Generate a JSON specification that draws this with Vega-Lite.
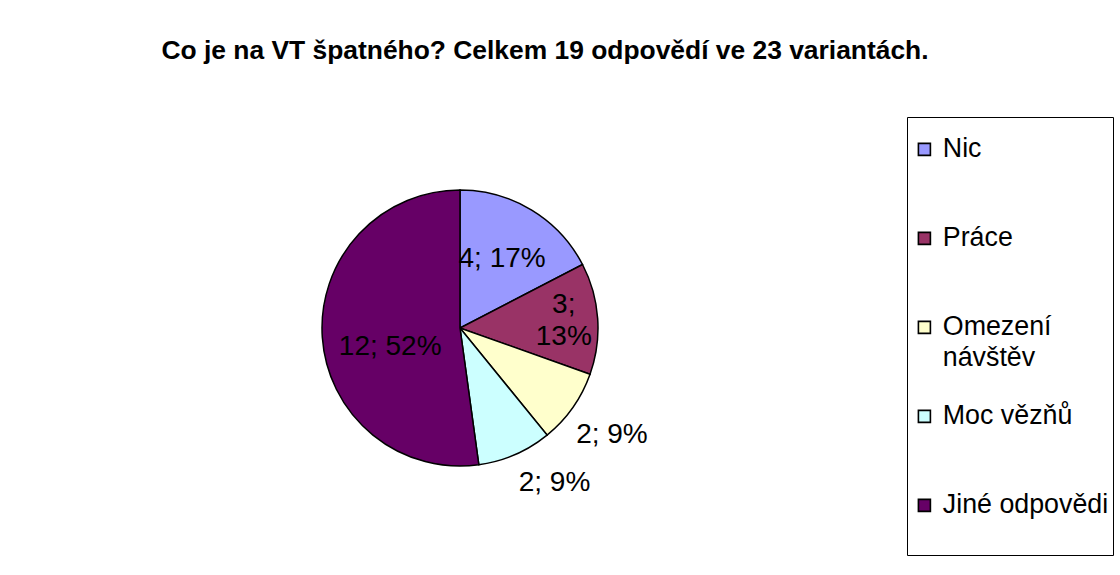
{
  "$schema": "https://vega.github.io/schema/vega-lite/v6.json",
  "autosize": {"type": "none"},
  "width": 276,
  "height": 276,
  "padding": {"left": 322, "top": 190, "right": 522, "bottom": 109},
  "background": "white",
  "config": {
    "view": {"stroke": null},
    "font": "Liberation Sans",
    "style": {"guide-label": {"lineHeight": 31}}
  },
  "title": {
    "text": "Co je na VT špatného? Celkem 19 odpovědí ve 23 variantách.",
    "font": "Liberation Sans",
    "fontSize": 26.4,
    "fontWeight": "bold",
    "color": "black",
    "anchor": "middle",
    "frame": "group",
    "dx": 85,
    "offset": 52
  },
  "data": {
    "values": [
      {"kategorie": "Nic", "pocet": 4, "poradi": 1, "label": "4; 17%"},
      {"kategorie": "Práce", "pocet": 3, "poradi": 2, "label": "3;\n13%"},
      {"kategorie": "Omezení návštěv", "pocet": 2, "poradi": 3, "label": "2; 9%"},
      {"kategorie": "Moc vězňů", "pocet": 2, "poradi": 4, "label": "2; 9%"},
      {"kategorie": "Jiné odpovědi", "pocet": 12, "poradi": 5, "label": "12; 52%"}
    ]
  },
  "encoding": {
    "theta": {"field": "pocet", "type": "quantitative", "stack": true},
    "order": {"field": "poradi", "type": "quantitative"}
  },
  "layer": [
    {
      "mark": {"type": "arc", "stroke": "black", "strokeWidth": 1.5},
      "encoding": {
        "color": {
          "field": "kategorie",
          "type": "nominal",
          "scale": {
            "domain": ["Nic", "Práce", "Omezení návštěv", "Moc vězňů", "Jiné odpovědi"],
            "range": ["#9999FF", "#993366", "#FFFFCC", "#CCFFFF", "#660066"]
          },
          "legend": {
            "orient": "none",
            "legendX": 585,
            "legendY": -73,
            "title": " ",
            "titleFontSize": 10,
            "titlePadding": 5,
            "symbolType": "square",
            "symbolSize": 144,
            "symbolStrokeColor": "black",
            "symbolStrokeWidth": 1.6,
            "symbolOpacity": 1,
            "labelFont": "Liberation Sans",
            "labelFontSize": 26.8,
            "labelColor": "black",
            "labelOffset": 5,
            "labelLimit": 300,
            "labelExpr": "datum.label == 'Omezení návštěv' ? ['Omezení', 'návštěv'] : [datum.label, ' ']",
            "rowPadding": 30,
            "padding": 4,
            "strokeColor": "black",
            "fillColor": "white"
          }
        }
      }
    },
    {
      "mark": {"type": "text", "radius": 81, "font": "Liberation Sans", "fontSize": 28, "color": "black"},
      "encoding": {"text": {"condition": {"test": "datum.poradi == 1", "field": "label"}, "value": ""}}
    },
    {
      "mark": {"type": "text", "radius": 104, "dy": -16, "font": "Liberation Sans", "fontSize": 28, "color": "black", "lineBreak": "\n", "lineHeight": 32},
      "encoding": {"text": {"condition": {"test": "datum.poradi == 2", "field": "label"}, "value": ""}}
    },
    {
      "mark": {"type": "text", "radius": 186, "font": "Liberation Sans", "fontSize": 28, "color": "black"},
      "encoding": {"text": {"condition": {"test": "datum.poradi == 3", "field": "label"}, "value": ""}}
    },
    {
      "mark": {"type": "text", "radius": 182, "dx": 22, "dy": -12, "font": "Liberation Sans", "fontSize": 28, "color": "black"},
      "encoding": {"text": {"condition": {"test": "datum.poradi == 4", "field": "label"}, "value": ""}}
    },
    {
      "mark": {"type": "text", "radius": 78, "dx": 8, "dy": 14, "font": "Liberation Sans", "fontSize": 28, "color": "black"},
      "encoding": {"text": {"condition": {"test": "datum.poradi == 5", "field": "label"}, "value": ""}}
    }
  ]
}
